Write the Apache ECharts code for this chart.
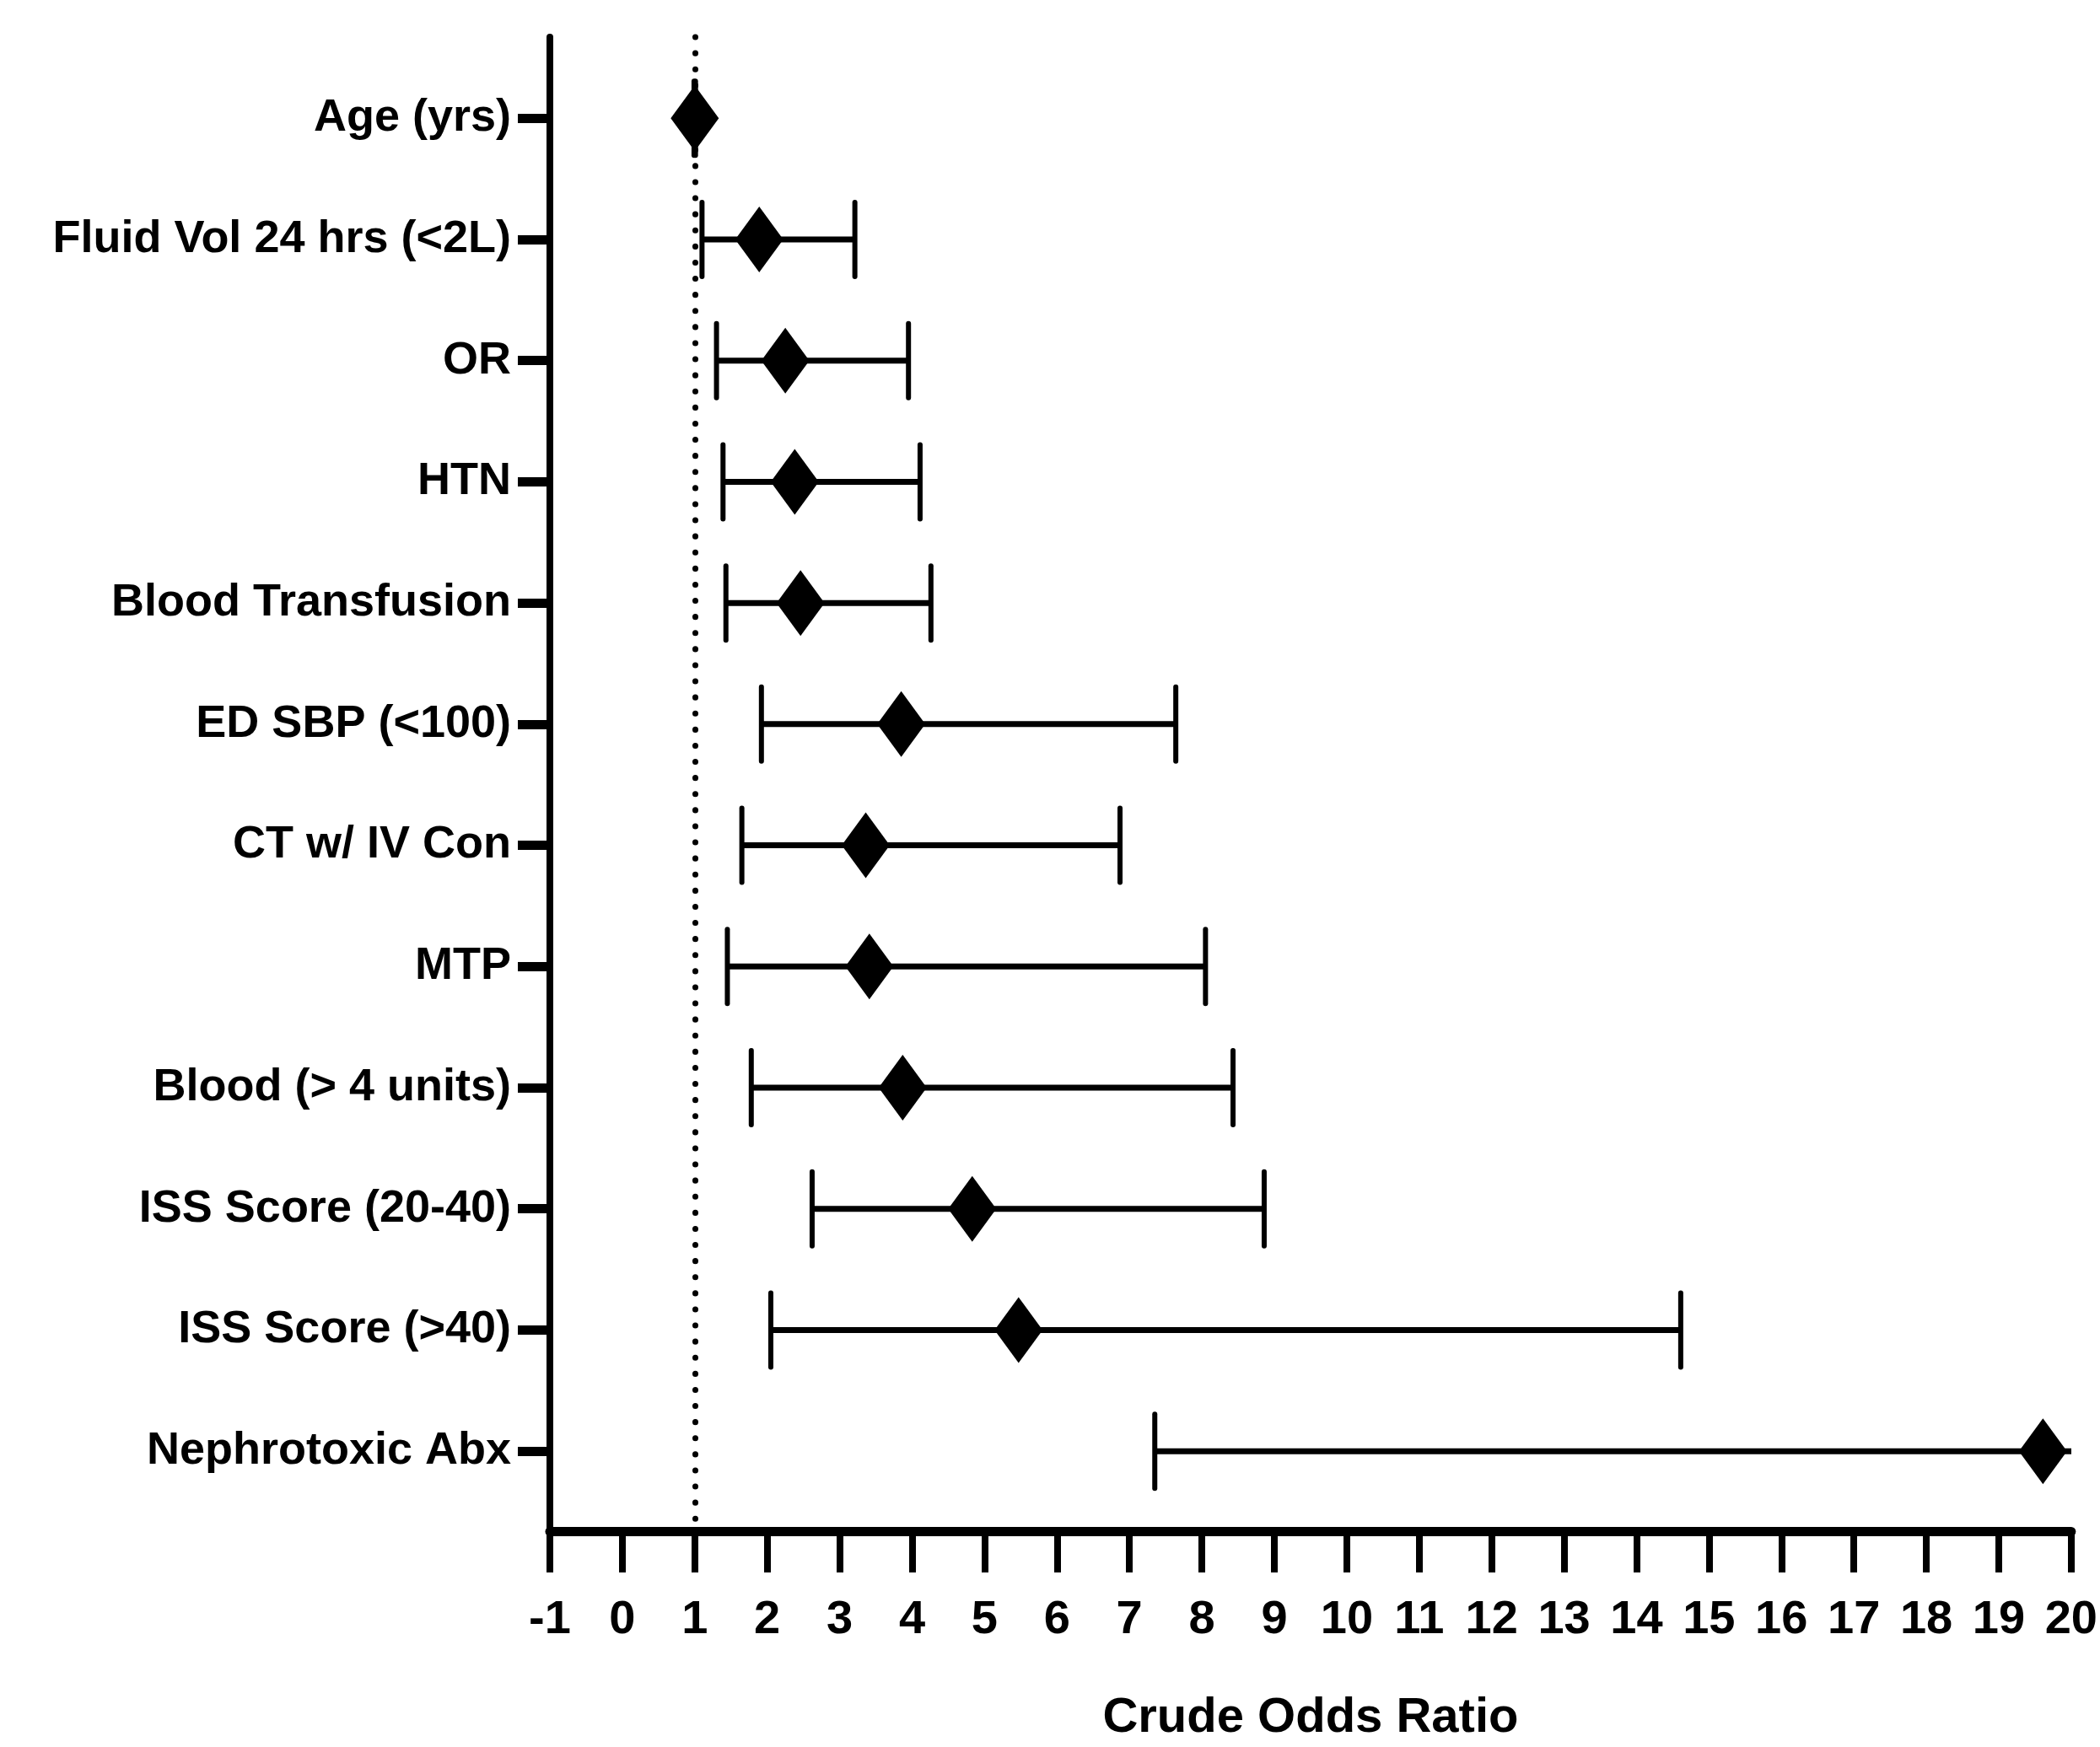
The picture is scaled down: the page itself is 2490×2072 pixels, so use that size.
<!DOCTYPE html>
<html>
<head>
<meta charset="utf-8">
<script src="https://cdn.jsdelivr.net/npm/echarts@6/dist/echarts.min.js"></script>
<style>
html,body{margin:0;padding:0;background:#fff;}
#chart{width:2490px;height:2072px;}
</style>
</head>
<body>
<div id="chart"></div>
<script>
const categories = ['Age (yrs)','Fluid Vol 24 hrs (<2L)','OR','HTN','Blood Transfusion','ED SBP (<100)','CT w/ IV Con','MTP','Blood (> 4 units)','ISS Score (20-40)','ISS Score (>40)','Nephrotoxic Abx'];
const oddsRatio = [1.00, 1.89, 2.25, 2.38, 2.46, 3.85, 3.36, 3.41, 3.87, 4.83, 5.47, 19.61];
const lowerCI   = [0.99, 1.10, 1.30, 1.39, 1.43, 1.92, 1.65, 1.45, 1.78, 2.62, 2.05, 7.35];
const upperCI   = [1.01, 3.21, 3.95, 4.11, 4.26, 7.64, 6.87, 8.05, 8.43, 8.86, 14.61, 20.6];
const xTicks = {min: -1, max: 20, interval: 1};
const refLine = 1;

const FONT = "'Liberation Sans','Arial',sans-serif";
const rows = categories.map((c, i) => i);

const chart = echarts.init(document.getElementById('chart'), null, {renderer: 'canvas'});
chart.setOption({
  animation: false,
  backgroundColor: '#fff',
  grid: {left: 652, right: 25, top: 44, bottom: 256, containLabel: false},
  xAxis: {
    type: 'value', min: xTicks.min, max: xTicks.max, interval: xTicks.interval,
    name: 'Crude Odds Ratio', nameLocation: 'middle', nameGap: 193,
    nameTextStyle: {fontFamily: FONT, fontWeight: 'bold', fontSize: 58, color: '#000'},
    axisLine: {show: true, onZero: false, lineStyle: {color: '#000', width: 11}},
    axisTick: {show: true, length: 49, lineStyle: {color: '#000', width: 8}},
    axisLabel: {show: true, margin: 78, fontFamily: FONT, fontWeight: 'bold', fontSize: 56, color: '#000'},
    splitLine: {show: false}
  },
  yAxis: {
    type: 'value', inverse: true, min: -0.67, max: 11.66,
    axisLine: {show: true, onZero: false, lineStyle: {color: '#000', width: 8}},
    axisTick: {show: true, length: 38, customValues: rows, lineStyle: {color: '#000', width: 11}},
    axisLabel: {show: true, margin: 46, customValues: rows,
      formatter: v => categories[Math.round(v)] || '',
      fontFamily: FONT, fontWeight: 'bold', fontSize: 54, color: '#000'},
    splitLine: {show: false}
  },
  series: [
    {
      type: 'custom',
      clip: true,
      data: rows.map(i => [lowerCI[i], upperCI[i], i]),
      renderItem: function (params, api) {
        const lo = api.coord([api.value(0), api.value(2)]);
        const hi = api.coord([api.value(1), api.value(2)]);
        const capH = 44;
        return {
          type: 'group',
          children: [
            {type: 'line', shape: {x1: lo[0], y1: lo[1], x2: hi[0], y2: hi[1]}, style: {stroke: '#000', lineWidth: 7}},
            {type: 'line', shape: {x1: lo[0], y1: lo[1] - capH, x2: lo[0], y2: lo[1] + capH}, style: {stroke: '#000', lineWidth: 6, lineCap: 'round'}},
            {type: 'line', shape: {x1: hi[0], y1: hi[1] - capH, x2: hi[0], y2: hi[1] + capH}, style: {stroke: '#000', lineWidth: 6, lineCap: 'round'}}
          ]
        };
      },
      z: 2
    },
    {
      type: 'scatter',
      symbol: 'diamond',
      symbolSize: [57, 78],
      itemStyle: {color: '#000', opacity: 1},
      data: rows.map(i => [oddsRatio[i], i]),
      z: 3,
      markLine: {
        silent: true, symbol: 'none', label: {show: false},
        lineStyle: {color: '#000', type: [0.1, 19], width: 7, cap: 'round', opacity: 1},
        data: [{xAxis: refLine}]
      }
    }
  ]
});
</script>
</body>
</html>
